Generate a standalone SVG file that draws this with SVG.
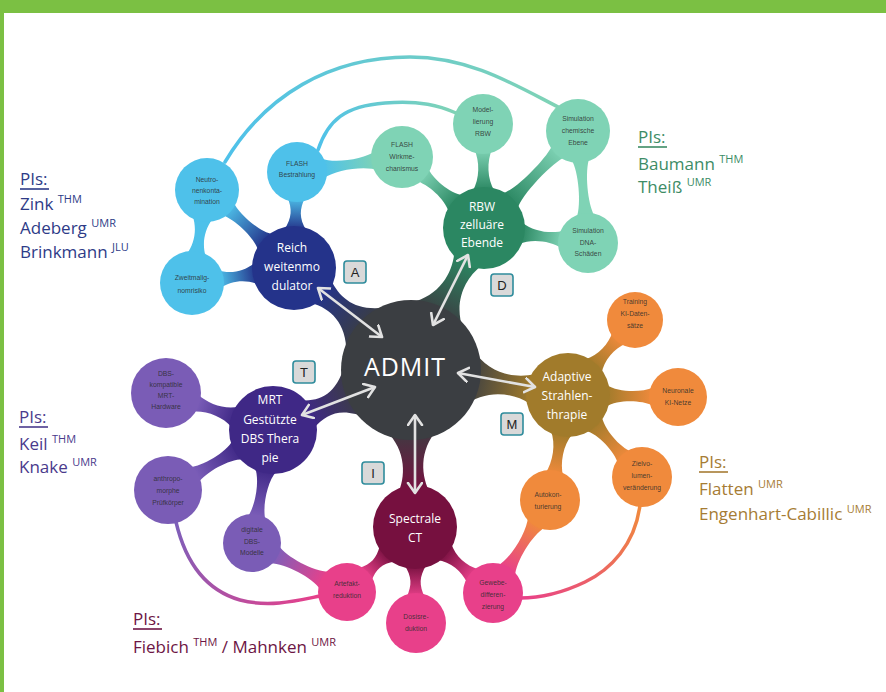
<svg xmlns="http://www.w3.org/2000/svg" width="886" height="692" viewBox="0 0 886 692">
  <defs>
    <style>
      .main { font-family: "Open Sans", "Liberation Sans", sans-serif; font-size: 12px; fill: #ffffff; text-anchor: middle; }
      .sat { font-family: "Liberation Sans", "DejaVu Sans", sans-serif; font-size: 6.8px; fill: #2b2b2b; fill-opacity: 0.85; text-anchor: middle; }
      .pi { font-family: "Open Sans", "Liberation Sans", sans-serif; font-size: 17px; }
      .sup { font-size: 11px; }
      .box rect { fill: #d9d9d9; stroke: #2f8c9c; stroke-width: 1.6; }
      .box text { font-family: "Liberation Sans", sans-serif; font-size: 13px; fill: #222; text-anchor: middle; }
      .arrow { stroke: #e2e2e2; stroke-width: 2.6; fill: none; marker-start: url(#tip); marker-end: url(#tip); }
      .thin { fill: none; stroke-width: 3.5; stroke-linecap: round; }
    </style>
    <marker id="tip" markerUnits="userSpaceOnUse" markerWidth="18" markerHeight="18" refX="11" refY="8" orient="auto-start-reverse">
      <path d="M1,1 L11,8 L1,15" fill="none" stroke="#e2e2e2" stroke-width="2.6" stroke-linecap="round" stroke-linejoin="round"/>
    </marker>
    <!-- tapered neck fills, running from parent (left) to child (right) in local space -->
    <linearGradient id="gAB"><stop offset="0" stop-color="#3b3e42"/><stop offset="1" stop-color="#24338a"/></linearGradient>
    <linearGradient id="gAG"><stop offset="0" stop-color="#3b3e42"/><stop offset="1" stop-color="#2b8762"/></linearGradient>
    <linearGradient id="gAO"><stop offset="0" stop-color="#3b3e42"/><stop offset="1" stop-color="#a17b2b"/></linearGradient>
    <linearGradient id="gAP"><stop offset="0" stop-color="#3b3e42"/><stop offset="1" stop-color="#76103f"/></linearGradient>
    <linearGradient id="gAV"><stop offset="0" stop-color="#3b3e42"/><stop offset="1" stop-color="#3f2886"/></linearGradient>
    <linearGradient id="gB"><stop offset="0" stop-color="#24338a"/><stop offset="1" stop-color="#4ec1ea"/></linearGradient>
    <linearGradient id="gG"><stop offset="0" stop-color="#2b8762"/><stop offset="1" stop-color="#7fd3b5"/></linearGradient>
    <linearGradient id="gO"><stop offset="0" stop-color="#a17b2b"/><stop offset="1" stop-color="#f08a3c"/></linearGradient>
    <linearGradient id="gP"><stop offset="0" stop-color="#76103f"/><stop offset="1" stop-color="#e8408a"/></linearGradient>
    <linearGradient id="gV"><stop offset="0" stop-color="#3f2886"/><stop offset="1" stop-color="#7d5fba"/></linearGradient>
    <linearGradient id="gBT"><stop offset="0" stop-color="#4ec1ea"/><stop offset="1" stop-color="#7fd3b5"/></linearGradient>
    <linearGradient id="gOP"><stop offset="0" stop-color="#f08a3c"/><stop offset="1" stop-color="#e8408a"/></linearGradient>
    <linearGradient id="gVP"><stop offset="0" stop-color="#7d5fba"/><stop offset="1" stop-color="#e8408a"/></linearGradient>
    <!-- long thin curves -->
    <linearGradient id="sArc" gradientUnits="userSpaceOnUse" x1="225" y1="160" x2="560" y2="108"><stop offset="0" stop-color="#4ec1ea"/><stop offset="1" stop-color="#7fd3b5"/></linearGradient>
    <linearGradient id="sFl" gradientUnits="userSpaceOnUse" x1="318" y1="150" x2="456" y2="113"><stop offset="0" stop-color="#4ec1ea"/><stop offset="1" stop-color="#7fd3b5"/></linearGradient>
    <linearGradient id="sOP" gradientUnits="userSpaceOnUse" x1="640" y1="505" x2="520" y2="598"><stop offset="0" stop-color="#f08a3c"/><stop offset="1" stop-color="#e8408a"/></linearGradient>
    <linearGradient id="sVP" gradientUnits="userSpaceOnUse" x1="176" y1="522" x2="320" y2="596"><stop offset="0" stop-color="#7d5fba"/><stop offset="1" stop-color="#e8408a"/></linearGradient>
  </defs>

  <rect width="886" height="692" fill="#ffffff"/>
  <!-- frame -->
  <rect x="0" y="0" width="886" height="13" fill="#7bc043"/>
  <rect x="0" y="0" width="4" height="692" fill="#7bc043"/>

  <g id="connectors">
    <!-- thin curves -->
    <path class="thin" stroke="url(#sArc)" d="M225,162 C265,95 330,57 410,57 C470,57 515,85 560,108"/>
    <path class="thin" stroke="url(#sFl)" d="M318,150 C328,120 345,106 385,103 C420,100 440,106 456,113"/>
    <path class="thin" stroke="url(#sOP)" d="M640,505 C635,545 610,570 585,582 C560,594 540,598 520,598"/>
    <path class="thin" stroke="url(#sVP)" d="M176,522 C185,560 205,590 240,600 C270,608 300,600 320,596"/>

    <!-- ADMIT necks -->
    <path fill="url(#gAB)" transform="translate(410,368) rotate(220.8)" d="M58,-30 C78,-7 99,-7 117,-15 L117,15 C99,7 78,7 58,30Z"/>
    <path fill="url(#gAG)" transform="translate(410,368) rotate(-62.1)" d="M58,-30 C78,-7 105,-7 123,-15 L123,15 C105,7 78,7 58,30Z"/>
    <path fill="url(#gAO)" transform="translate(410,368) rotate(9.7)" d="M58,-30 C78,-7 106,-7 124,-15 L124,15 C106,7 78,7 58,30Z"/>
    <path fill="url(#gAP)" transform="translate(410,368) rotate(88.2)" d="M58,-30 C78,-7 105,-7 123,-15 L123,15 C105,7 78,7 58,30Z"/>
    <path fill="url(#gAV)" transform="translate(410,368) rotate(155.6)" d="M58,-30 C78,-7 94,-7 112,-15 L112,15 C94,7 78,7 58,30Z"/>

    <!-- blue branch -->
    <path fill="url(#gB)" transform="translate(294,268) rotate(221.9)" d="M38,-11 C50,-3.5 78,-3.5 90,-9 L90,9 C78,3.5 50,3.5 38,11Z"/>
    <path fill="url(#gB)" transform="translate(294,268) rotate(-88.2)" d="M38,-11 C50,-3.5 59,-3.5 71,-9 L71,9 C59,3.5 50,3.5 38,11Z"/>
    <path fill="url(#gB)" transform="translate(294,268) rotate(171.6)" d="M38,-11 C50,-3.5 64,-3.5 76,-9 L76,9 C64,3.5 50,3.5 38,11Z"/>
    <path fill="#4ec1ea" transform="translate(207,190) rotate(99.2)" d="M28,-10 C40,-3.5 55,-3.5 67,-10 L67,10 C55,3.5 40,3.5 28,10Z"/>
    <path fill="url(#gBT)" transform="translate(297,172) rotate(-8.1)" d="M26,-10 C38,-3 69,-3 81,-10 L81,10 C69,3 38,3 26,10Z"/>

    <!-- green branch -->
    <path fill="url(#gG)" transform="translate(484,228) rotate(220.9)" d="M37,-11 C49,-3.5 71,-3.5 83,-9 L83,9 C71,3.5 49,3.5 37,11Z"/>
    <path fill="url(#gG)" transform="translate(484,228) rotate(-90.6)" d="M37,-11 C49,-3.5 67,-3.5 79,-9 L79,9 C67,3.5 49,3.5 37,11Z"/>
    <path fill="url(#gG)" transform="translate(484,228) rotate(-45.9)" d="M37,-11 C49,-3.5 96,-3.5 108,-9 L108,9 C96,3.5 49,3.5 37,11Z"/>
    <path fill="url(#gG)" transform="translate(484,228) rotate(8.2)" d="M37,-11 C49,-3.5 68,-3.5 80,-9 L80,9 C68,3.5 49,3.5 37,11Z"/>
    <path fill="#7fd3b5" transform="translate(578,131) rotate(84.9)" d="M28,-9 C40,-3 74,-3 86,-9 L86,9 C74,3 40,3 28,9Z"/>

    <!-- orange branch -->
    <path fill="url(#gO)" transform="translate(568,395) rotate(-48.2)" d="M38,-11 C50,-3.5 65,-3.5 77,-9 L77,9 C65,3.5 50,3.5 38,11Z"/>
    <path fill="url(#gO)" transform="translate(568,395) rotate(1)" d="M38,-11 C50,-3.5 73,-3.5 85,-9 L85,9 C73,3.5 50,3.5 38,11Z"/>
    <path fill="url(#gO)" transform="translate(568,395) rotate(47.9)" d="M38,-11 C50,-3.5 73,-3.5 85,-9 L85,9 C73,3.5 50,3.5 38,11Z"/>
    <path fill="url(#gO)" transform="translate(568,395) rotate(99.7)" d="M38,-11 C50,-3.5 69,-3.5 81,-9 L81,9 C69,3.5 50,3.5 38,11Z"/>

    <!-- pink branch -->
    <path fill="url(#gP)" transform="translate(415,527) rotate(136.3)" d="M38,-11 C50,-3.5 57,-3.5 69,-9 L69,9 C57,3.5 50,3.5 38,11Z"/>
    <path fill="url(#gP)" transform="translate(415,527) rotate(89.4)" d="M38,-11 C50,-3.5 58,-3.5 70,-9 L70,9 C58,3.5 50,3.5 38,11Z"/>
    <path fill="url(#gP)" transform="translate(415,527) rotate(40.2)" d="M38,-11 C50,-3.5 64,-3.5 76,-9 L76,9 C64,3.5 50,3.5 38,11Z"/>
    <path fill="url(#gOP)" transform="translate(550,500) rotate(121.5)" d="M26,-10 C38,-3 71,-3 83,-10 L83,10 C71,3 38,3 26,10Z"/>

    <!-- purple branch -->
    <path fill="url(#gV)" transform="translate(273,430) rotate(199.1)" d="M40,-11 C52,-3.5 70,-3.5 82,-9 L82,9 C70,3.5 52,3.5 40,11Z"/>
    <path fill="url(#gV)" transform="translate(273,430) rotate(150.3)" d="M40,-11 C52,-3.5 79,-3.5 91,-9 L91,9 C79,3.5 52,3.5 40,11Z"/>
    <path fill="url(#gV)" transform="translate(273,430) rotate(100.5)" d="M40,-11 C52,-3.5 78,-3.5 90,-9 L90,9 C78,3.5 52,3.5 40,11Z"/>
    <path fill="url(#gVP)" transform="translate(252,543) rotate(27.3)" d="M25,-10 C37,-3 70,-3 82,-10 L82,10 C70,3 37,3 25,10Z"/>
  </g>

  <!-- centre -->
  <g id="admit">
    <circle cx="411" cy="370" r="70" fill="#3b3e42"/>
    <text x="405" y="376" font-family="Open Sans, Liberation Sans, sans-serif" font-size="25" letter-spacing="1" fill="#ffffff" text-anchor="middle">ADMIT</text>
  </g>

  <!-- blue branch -->
  <g id="reichweitenmodulator">
    <circle cx="294" cy="268" r="42" fill="#24338a"/>
    <text class="main" x="292"><tspan x="292" y="252">Reich</tspan><tspan x="292" y="271">weitenmo</tspan><tspan x="292" y="290">dulator</tspan></text>
  </g>
  <g id="neutronenkontamination">
    <circle cx="207" cy="190" r="32" fill="#4ec1ea"/>
    <text class="sat"><tspan x="207" y="182">Neutro-</tspan><tspan x="207" y="193">nenkonta-</tspan><tspan x="207" y="204">mination</tspan></text>
  </g>
  <g id="flash-bestrahlung">
    <circle cx="297" cy="172" r="30" fill="#4ec1ea"/>
    <text class="sat"><tspan x="297" y="166">FLASH</tspan><tspan x="297" y="177">Bestrahlung</tspan></text>
  </g>
  <g id="zweitmalignomrisiko">
    <circle cx="192" cy="283" r="32" fill="#4ec1ea"/>
    <text class="sat"><tspan x="192" y="280">Zweitmalig-</tspan><tspan x="192" y="293">nomrisiko</tspan></text>
  </g>

  <!-- green branch -->
  <g id="rbw">
    <circle cx="484" cy="228" r="41" fill="#2b8762"/>
    <text class="main"><tspan x="482" y="211">RBW</tspan><tspan x="482" y="229">zelluäre</tspan><tspan x="482" y="247">Ebende</tspan></text>
  </g>
  <g id="flash-wirkmechanismus">
    <circle cx="402" cy="157" r="31" fill="#7fd3b5"/>
    <text class="sat"><tspan x="402" y="147">FLASH</tspan><tspan x="402" y="159">Wirkme-</tspan><tspan x="402" y="171">chanismus</tspan></text>
  </g>
  <g id="modellierung-rbw">
    <circle cx="483" cy="124" r="30" fill="#7fd3b5"/>
    <text class="sat"><tspan x="483" y="112">Model-</tspan><tspan x="483" y="124">lierung</tspan><tspan x="483" y="136">RBW</tspan></text>
  </g>
  <g id="simulation-chemisch">
    <circle cx="578" cy="131" r="32" fill="#7fd3b5"/>
    <text class="sat"><tspan x="578" y="121">Simulation</tspan><tspan x="578" y="133">chemische</tspan><tspan x="578" y="145">Ebene</tspan></text>
  </g>
  <g id="simulation-dna">
    <circle cx="588" cy="243" r="30" fill="#7fd3b5"/>
    <text class="sat"><tspan x="588" y="233">Simulation</tspan><tspan x="588" y="245">DNA-</tspan><tspan x="588" y="256">Schäden</tspan></text>
  </g>

  <!-- orange branch -->
  <g id="adaptive-strahlentherapie">
    <circle cx="568" cy="395" r="42" fill="#a17b2b"/>
    <text class="main"><tspan x="567" y="381">Adaptive</tspan><tspan x="567" y="400">Strahlen-</tspan><tspan x="567" y="419">thrapie</tspan></text>
  </g>
  <g id="training-ki">
    <circle cx="635" cy="320" r="28" fill="#f08a3c"/>
    <text class="sat"><tspan x="635" y="304">Training</tspan><tspan x="635" y="316">KI-Daten-</tspan><tspan x="635" y="328">sätze</tspan></text>
  </g>
  <g id="neuronale-netze">
    <circle cx="678" cy="397" r="29" fill="#f08a3c"/>
    <text class="sat"><tspan x="678" y="393">Neuronale</tspan><tspan x="678" y="405">KI-Netze</tspan></text>
  </g>
  <g id="zielvolumen">
    <circle cx="642" cy="477" r="30" fill="#f08a3c"/>
    <text class="sat"><tspan x="642" y="466">Zielvo-</tspan><tspan x="642" y="478">lumen-</tspan><tspan x="642" y="490">veränderung</tspan></text>
  </g>
  <g id="autokonturierung">
    <circle cx="550" cy="500" r="30" fill="#f08a3c"/>
    <text class="sat"><tspan x="548" y="497">Autokon-</tspan><tspan x="548" y="509">turierung</tspan></text>
  </g>

  <!-- pink branch -->
  <g id="spectrale-ct">
    <circle cx="415" cy="527" r="42" fill="#76103f"/>
    <text class="main"><tspan x="415" y="523">Spectrale</tspan><tspan x="415" y="542">CT</tspan></text>
  </g>
  <g id="artefaktreduktion">
    <circle cx="347" cy="592" r="29" fill="#e8408a"/>
    <text class="sat"><tspan x="347" y="586">Artefakt-</tspan><tspan x="347" y="598">reduktion</tspan></text>
  </g>
  <g id="dosisreduktion">
    <circle cx="416" cy="623" r="30" fill="#e8408a"/>
    <text class="sat"><tspan x="416" y="619">Dosisre-</tspan><tspan x="416" y="631">duktion</tspan></text>
  </g>
  <g id="gewebedifferenzierung">
    <circle cx="493" cy="593" r="30" fill="#e8408a"/>
    <text class="sat"><tspan x="493" y="585">Gewebe-</tspan><tspan x="493" y="597">differen-</tspan><tspan x="493" y="609">zierung</tspan></text>
  </g>

  <!-- purple branch -->
  <g id="mrt-dbs">
    <circle cx="273" cy="430" r="44" fill="#3f2886"/>
    <text class="main"><tspan x="270" y="404">MRT</tspan><tspan x="270" y="424">Gestützte</tspan><tspan x="270" y="443">DBS Thera</tspan><tspan x="270" y="462">pie</tspan></text>
  </g>
  <g id="dbs-hardware">
    <circle cx="166" cy="393" r="35" fill="#7a5cb6"/>
    <text class="sat"><tspan x="166" y="376">DBS-</tspan><tspan x="166" y="387">kompatible</tspan><tspan x="166" y="398">MRT-</tspan><tspan x="166" y="409">Hardware</tspan></text>
  </g>
  <g id="pruefkoerper">
    <circle cx="168" cy="490" r="34" fill="#7a5cb6"/>
    <text class="sat"><tspan x="168" y="481">anthropo-</tspan><tspan x="168" y="493">morphe</tspan><tspan x="168" y="505">Prüfkörper</tspan></text>
  </g>
  <g id="dbs-modelle">
    <circle cx="252" cy="543" r="29" fill="#7a5cb6"/>
    <text class="sat"><tspan x="252" y="532">digitale</tspan><tspan x="252" y="544">DBS-</tspan><tspan x="252" y="555">Modelle</tspan></text>
  </g>

  <!-- double arrows between the centre and each work package -->
  <g id="arrows">
    <line class="arrow" x1="318" y1="288" x2="382" y2="337"/>
    <line class="arrow" x1="468" y1="255" x2="433" y2="325"/>
    <line class="arrow" x1="458" y1="373" x2="535" y2="387"/>
    <line class="arrow" x1="302" y1="415" x2="375" y2="387"/>
    <line class="arrow" x1="415" y1="415" x2="415" y2="493"/>
  </g>

  <!-- work package tags -->
  <g id="tags" class="box">
    <rect x="344" y="261" width="22" height="22" rx="3"/><text x="355" y="277">A</text>
    <rect x="491" y="274" width="22" height="22" rx="3"/><text x="502" y="290">D</text>
    <rect x="293" y="361" width="22" height="22" rx="3"/><text x="304" y="377">T</text>
    <rect x="501" y="413" width="22" height="22" rx="3"/><text x="512" y="429">M</text>
    <rect x="362" y="462" width="22" height="22" rx="3"/><text x="373" y="478">I</text>
  </g>

  <!-- principal investigators -->
  <g id="pi-a" class="pi" fill="#2e3b87">
    <text x="20" y="185">PIs:</text>
    <line x1="20" y1="189" x2="49" y2="189" stroke="#2e3b87" stroke-width="1.6"/>
    <text x="20" y="210">Zink <tspan class="sup" dy="-7">THM</tspan></text>
    <text x="20" y="234">Adeberg <tspan class="sup" dy="-7">UMR</tspan></text>
    <text x="20" y="258">Brinkmann <tspan class="sup" dy="-7">JLU</tspan></text>
  </g>
  <g id="pi-d" class="pi" fill="#3d8c66">
    <text x="638" y="143">PIs:</text>
    <line x1="638" y1="147" x2="667" y2="147" stroke="#3d8c66" stroke-width="1.6"/>
    <text x="638" y="170">Baumann <tspan class="sup" dy="-7">THM</tspan></text>
    <text x="638" y="193">Theiß <tspan class="sup" dy="-7">UMR</tspan></text>
  </g>
  <g id="pi-m" class="pi" fill="#a67c34">
    <text x="699" y="468">PIs:</text>
    <line x1="699" y1="472" x2="728" y2="472" stroke="#a67c34" stroke-width="1.6"/>
    <text x="699" y="495">Flatten <tspan class="sup" dy="-7">UMR</tspan></text>
    <text x="699" y="520">Engenhart-Cabillic <tspan class="sup" dy="-7">UMR</tspan></text>
  </g>
  <g id="pi-t" class="pi" fill="#4a3a8c">
    <text x="19" y="423">PIs:</text>
    <line x1="19" y1="427" x2="48" y2="427" stroke="#4a3a8c" stroke-width="1.6"/>
    <text x="19" y="450">Keil <tspan class="sup" dy="-7">THM</tspan></text>
    <text x="19" y="473">Knake <tspan class="sup" dy="-7">UMR</tspan></text>
  </g>
  <g id="pi-i" class="pi" fill="#6d1544">
    <text x="133" y="625">PIs:</text>
    <line x1="133" y1="629" x2="162" y2="629" stroke="#6d1544" stroke-width="1.6"/>
    <text x="133" y="653">Fiebich <tspan class="sup" dy="-7">THM</tspan><tspan dy="7"> / Mahnken </tspan><tspan class="sup" dy="-7">UMR</tspan></text>
  </g>
</svg>
